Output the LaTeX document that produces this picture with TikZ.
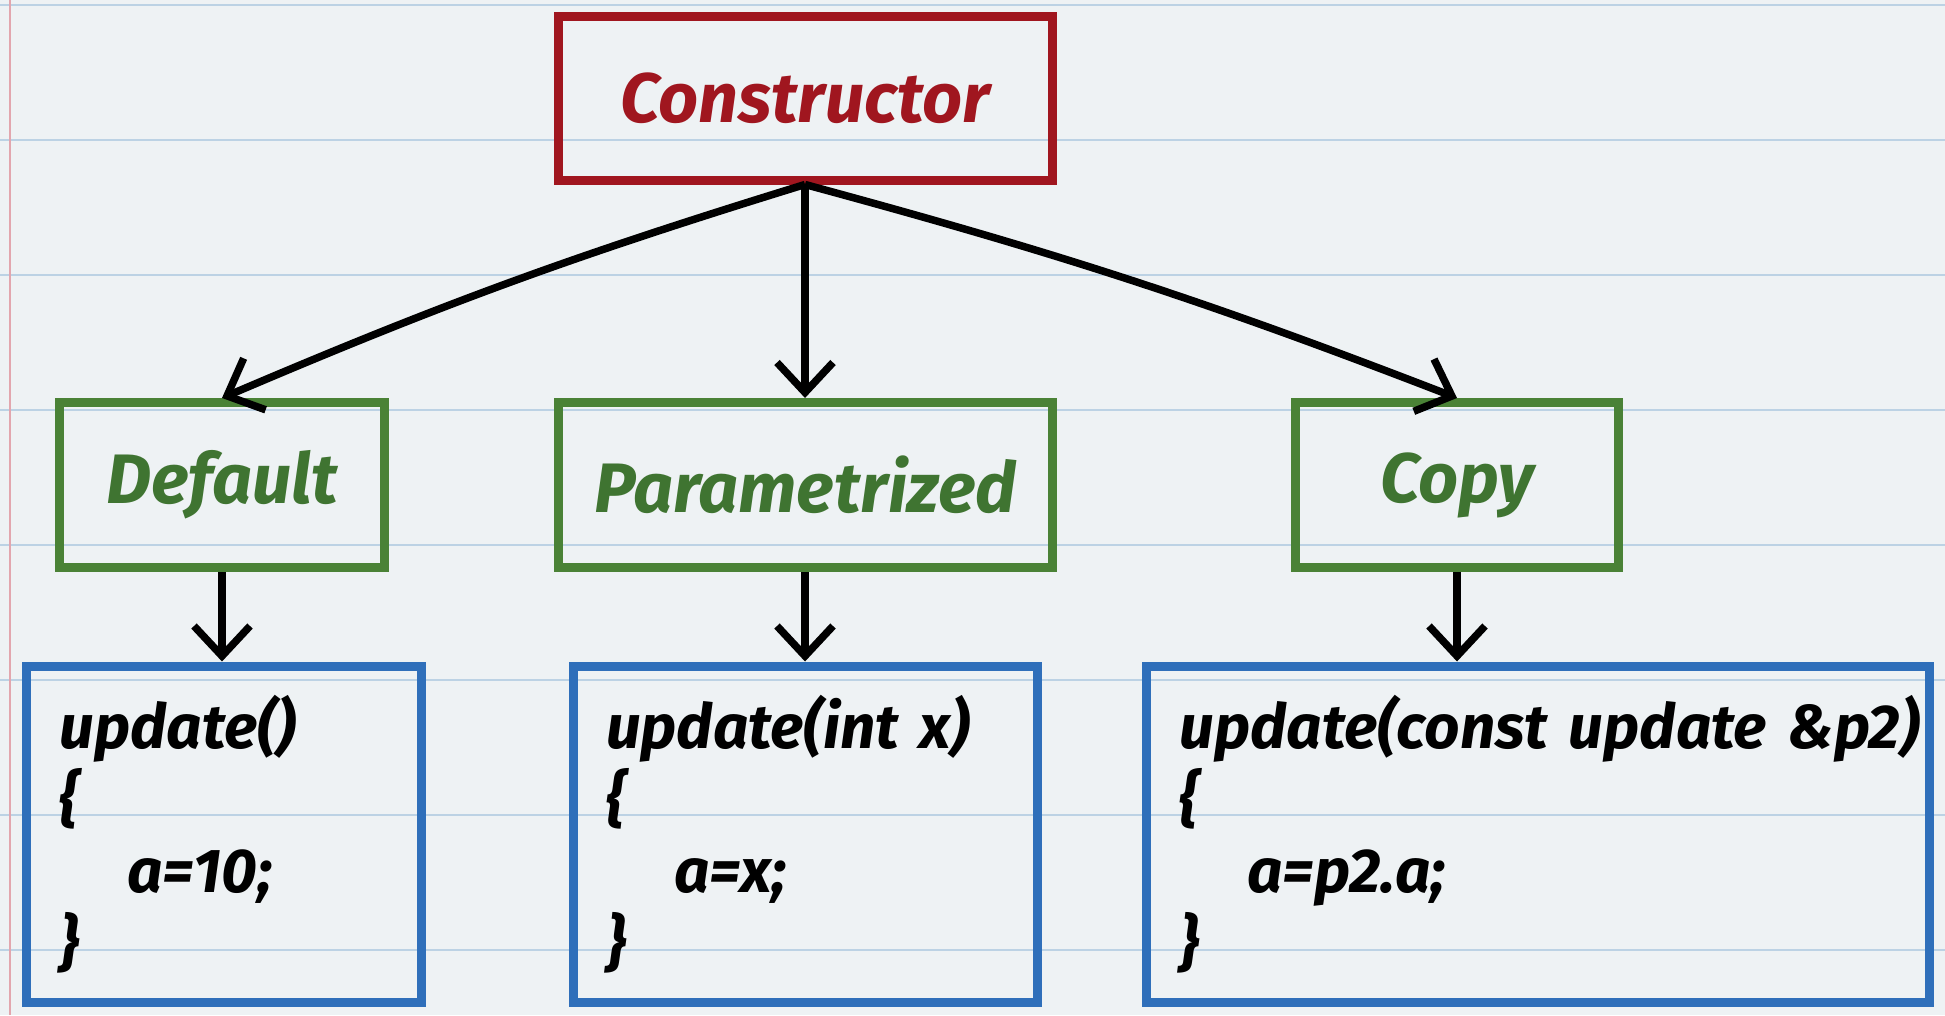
\documentclass[tikz,border=0pt]{standalone}
\usepackage{fontspec}
\setmainfont{Fira Sans}
\usetikzlibrary{arrows.meta}
\definecolor{paper}{HTML}{EEF2F4}
\definecolor{rule}{HTML}{BCD2E4}
\definecolor{margin}{HTML}{E2A6AE}
\definecolor{cred}{HTML}{A0161F}
\definecolor{cgreen}{HTML}{4A8236}
\definecolor{cgreentext}{HTML}{3F7431}
\definecolor{cblue}{HTML}{2F6FBA}
\begin{document}
\begin{tikzpicture}[x=1pt,y=-1pt,
  titlebox/.style={draw=cred, line width=9pt, text=cred,
    font=\fontsize{70}{80}\selectfont\bfseries\itshape,
    minimum width=494pt, minimum height=164pt, inner sep=0pt},
  kindbox/.style={draw=cgreen, line width=9pt, text=cgreentext,
    font=\fontsize{70}{80}\selectfont\bfseries\itshape,
    minimum height=165pt, inner sep=0pt},
  codebox/.style={draw=cblue, line width=9pt, text=black,
    font=\fontsize{62}{72}\selectfont\bfseries\itshape,
    minimum height=336pt, align=left, inner xsep=33pt, inner ysep=0pt},
  arr/.style={line width=7.5pt, draw=black,
    -{Straight Barb[length=30pt,width=56pt,line width=7.5pt]}}
]
\useasboundingbox (0,0) rectangle (1945,1015);
\fill[paper] (0,0) rectangle (1945,1015);
\foreach \yy in {5,140,275,410,545,680,815,950}
  \draw[rule, line width=2.5pt] (0,\yy) -- (1945,\yy);
\draw[margin, line width=2.5pt] (10,0) -- (10,1015);

\node[titlebox] (con) at (805,98) {Constructor};
\node[kindbox, minimum width=325pt] (def) at (222,485) {Default};
\node[kindbox, minimum width=494pt] (par) at (805,485) {Parametrized};
\node[kindbox, minimum width=323pt] (cop) at (1457,485) {Copy};

\node[codebox, text width=329pt] (c1) at (224,834)
  {update()\\\{\\\hspace*{68pt}a=10;\\\}};
\node[codebox, text width=398pt] (c2) at (805,834)
  {update(int x)\\\{\\\hspace*{68pt}a=x;\\\}};
\node[codebox, text width=717pt] (c3) at (1538,834)
  {\mbox{update(const update \&p2)}\\\{\\\hspace*{68pt}a=p2.a;\\\}};

\draw[arr] (con.south) to[bend right=3] (def.north);
\draw[arr] (con.south) -- (par.north);
\draw[arr] (con.south) to[bend left=3] (cop.north);

\draw[arr] (def.south) -- (def.south |- c1.north);
\draw[arr] (par.south) -- (par.south |- c2.north);
\draw[arr] (cop.south) -- (cop.south |- c3.north);
\end{tikzpicture}
\end{document}
